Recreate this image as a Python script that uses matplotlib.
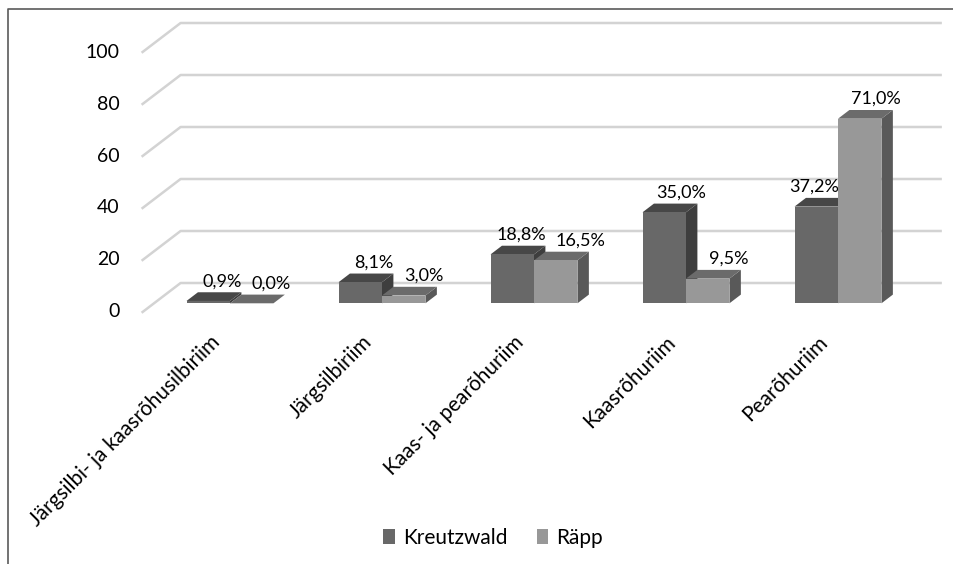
import matplotlib
matplotlib.use("Agg")
import matplotlib.pyplot as plt
from matplotlib.patches import Polygon, Rectangle
from matplotlib.lines import Line2D
import numpy as np


categories = [
    "Järgsilbi- ja kaasrõhusilbiriim",
    "Järgsilbiriim",
    "Kaas- ja pearõhuriim",
    "Kaasrõhuriim",
    "Pearõhuriim",
]
series_names = ["Kreutzwald", "Räpp"]
kreutzwald = [0.9, 8.1, 18.8, 35.0, 37.2]
rapp = [0.0, 3.0, 16.5, 9.5, 71.0]
y_ticks = [0, 20, 40, 60, 80, 100]


DPI = 100
W, H = 954, 564

# fake 3D: pixel shift from the front edge of the floor to the back wall
DEPTH = np.array([38.0, 29.0])
BAR_FRONT, BAR_BACK = 0.3, 0.6
BAR_W = 0.286

faces = {
    "Kreutzwald": dict(front="#686868", top="#474747", side="#3e3e3e"),
    "Räpp": dict(front="#989898", top="#6b6b6b", side="#595959"),
}

# sideways nudges (pixels) so value labels don't run into the neighbour bar
label_dx = {
    "Kreutzwald": [3, 2, -2, 5, -14],
    "Räpp": [8, 9, 13, 10, 5],
}

plt.rcParams["font.family"] = ["Lato", "DejaVu Sans"]

fig = plt.figure(figsize=(W / DPI, H / DPI), dpi=DPI)
# the axes box is the front plane of the bars
ax = fig.add_axes([154 / W, (H - 303.3) / H, 760 / W, 260 / H])
ax.set_xlim(-0.5, 4.5)
ax.set_ylim(0, 100)
ax.axis("off")


def to_depth(x, y, f):
    p = ax.transData.transform(np.column_stack([x, y]))
    p = p + (f - BAR_FRONT) * DEPTH
    return ax.transData.inverted().transform(p)


# gridlines: short diagonal on the left wall + line along the back wall
for v in y_ticks:
    pts = np.vstack([
        to_depth([-0.5], [v], 0.0),
        to_depth([-0.5], [v], 1.0),
        to_depth([4.5], [v], 1.0),
    ])
    ax.plot(pts[:, 0], pts[:, 1], color="#d3d3d3", lw=1.8, clip_on=False, zorder=1)
    ax.annotate(str(v), pts[0], xytext=(-23, 0), textcoords="offset pixels",
                ha="right", va="center", fontsize=14, color="#000000",
                annotation_clip=False)

z = 2
for i in range(len(categories)):
    for s, (name, vals) in enumerate(zip(series_names, [kreutzwald, rapp])):
        v = vals[i]
        c = faces[name]
        x0 = i - BAR_W if s == 0 else i
        x1 = x0 + BAR_W
        side = np.vstack([to_depth([x1, x1], [0, v], BAR_FRONT),
                          to_depth([x1, x1], [v, 0], BAR_BACK)])
        top = np.vstack([to_depth([x0, x1], [v, v], BAR_FRONT),
                         to_depth([x1, x0], [v, v], BAR_BACK)])
        ax.add_patch(Polygon(side, closed=True, facecolor=c["side"], edgecolor="none",
                             clip_on=False, zorder=z))
        ax.add_patch(Polygon(top, closed=True, facecolor=c["top"], edgecolor="none",
                             clip_on=False, zorder=z + 1))
        ax.bar(x0, v, width=BAR_W, align="edge", color=c["front"], edgecolor="none",
               clip_on=False, zorder=z + 2)
        z += 3

        lx, ly = to_depth([x0 + BAR_W / 2], [v], BAR_BACK)[0]
        ax.annotate(f"{v:.1f}%".replace(".", ","), (lx, ly),
                    xytext=(label_dx[name][i], 6), textcoords="offset pixels",
                    ha="center", va="baseline", fontsize=13, color="#000000",
                    zorder=100, annotation_clip=False)

# category labels under the front edge of the floor
for i, cat in enumerate(categories):
    cx, cy = to_depth([i], [0], 0.0)[0]
    ax.annotate(cat, (cx, cy), xytext=(-2, -27), textcoords="offset pixels",
                rotation=45, rotation_mode="anchor", ha="right", va="center",
                fontsize=15, color="#000000", annotation_clip=False)

handles = [Rectangle((0, 0), 1, 1, facecolor=faces[n]["front"]) for n in series_names]
fig.legend(handles, series_names, loc="center", bbox_to_anchor=(493 / W, 1 - 538 / H),
           ncol=2, frameon=False, fontsize=15, handlelength=0.55, handleheight=0.7,
           handletextpad=0.4, columnspacing=1.4)

# chart frame (only top and left edges are inside the image)
fig.add_artist(Line2D([8 / W, 8 / W, 1.0], [0.0, 1 - 9 / H, 1 - 9 / H],
                      transform=fig.transFigure, color="#5a5a5a", lw=1.2))

fig.savefig("out.png", dpi=DPI)
